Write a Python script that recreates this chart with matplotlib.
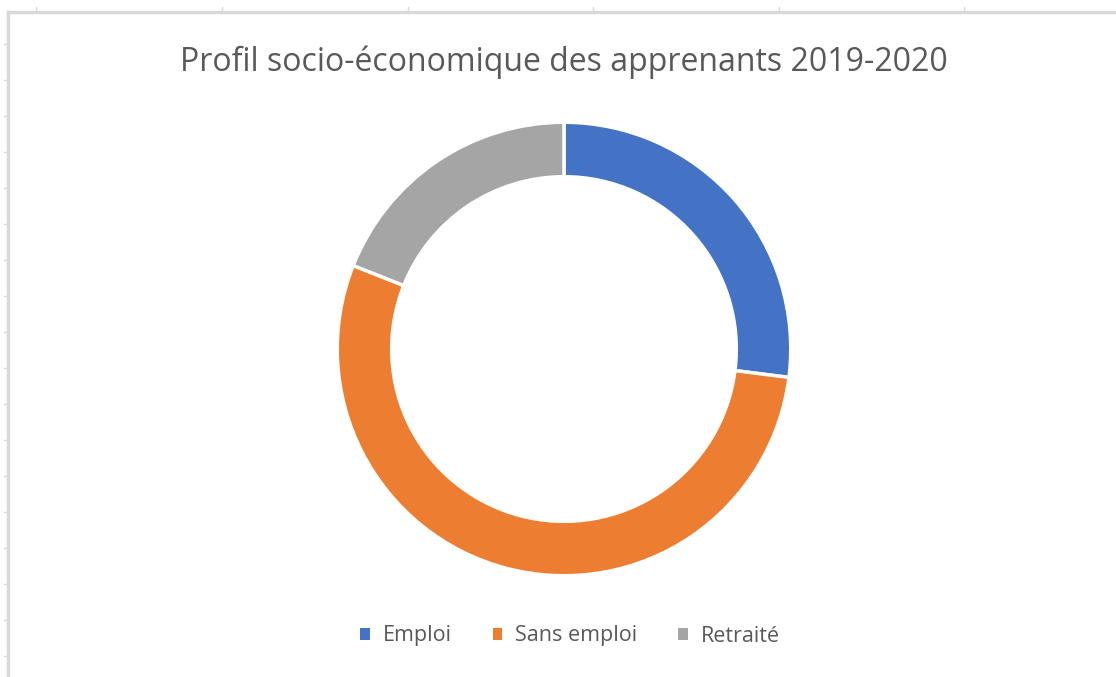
import matplotlib
matplotlib.use('Agg')
from matplotlib import pyplot as plt, patches, lines

labels = ['Emploi', 'Sans emploi', 'Retraité']
values = [27, 54, 19]
colours = ['#4472C4', '#ED7D31', '#A5A5A5']
title = 'Profil socio-économique des apprenants 2019-2020'

W, H = 1116, 677
fig = plt.figure(figsize=(W / 100, H / 100), dpi=100)
fig.patch.set_facecolor('white')

# spreadsheet frame round the chart
def px(x, y):
    return x / W, 1 - y / H

grey = '#d9d9d9'
fig.add_artist(lines.Line2D([px(8, 0)[0], 1], [px(0, 12)[1]] * 2, color=grey, lw=2.5))
fig.add_artist(lines.Line2D([px(8, 0)[0]] * 2, [0, px(0, 12)[1]], color=grey, lw=2.5))
for x in [36, 222, 408, 593, 779, 964]:
    fig.add_artist(lines.Line2D([px(x, 0)[0]] * 2, [px(0, 7)[1], px(0, 11)[1]], color=grey, lw=1))
for y in range(44, H, 36):
    fig.add_artist(lines.Line2D([px(4, 0)[0], px(8, 0)[0]], [px(0, y)[1]] * 2, color=grey, lw=1))

# donut
cx, cy, r = 564, 349, 229
ax = fig.add_axes([(cx - r) / W, (H - cy - r) / H, 2 * r / W, 2 * r / H])
wedges, _ = ax.pie(values, colors=colours, startangle=90, counterclock=False,
                   wedgeprops=dict(width=0.24, edgecolor='white', linewidth=2.5))
ax.set_xlim(-1.01, 1.01)
ax.set_ylim(-1.01, 1.01)
ax.axis('off')

fig.text(564 / W, 1 - 62 / H, title, ha='center', va='center', fontsize=23,
         color='#595959', family='Open Sans')

handles = [patches.Rectangle((0, 0), 1, 1, facecolor=c) for c in colours]
leg = fig.legend(handles, labels, ncol=3, loc='center', bbox_to_anchor=(570 / W, 1 - 636 / H),
                 frameon=False, handlelength=0.45, handleheight=0.45, handletextpad=0.6,
                 columnspacing=1.9, prop={'family': 'Open Sans', 'size': 15.5})
for t in leg.get_texts():
    t.set_color('#595959')

fig.savefig('out.png', dpi=100)
